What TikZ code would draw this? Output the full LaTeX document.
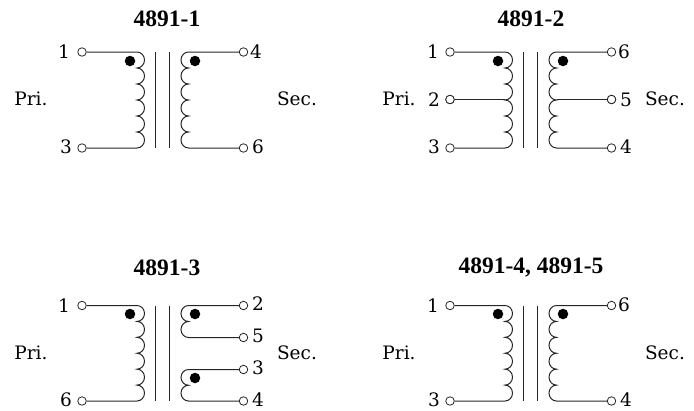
\documentclass[tikz,border=0pt]{standalone}
\usepackage{fontspec}
\setmainfont{DejaVu Serif}
\newfontfamily\titlefont{Liberation Serif}
\tikzset{
  wire/.style={line width=1pt,draw=black!85},
  term/.style={circle,draw=black!85,line width=0.8pt,fill=white,inner sep=0pt,minimum size=8.5pt},
  polarity/.style={circle,fill=black,inner sep=0pt,minimum size=10.5pt},
  lab/.style={inner sep=0pt,font=\fontsize{18.5}{18.5}\selectfont},
  heading/.style={inner sep=0pt,font=\titlefont\bfseries\fontsize{23.5}{23.5}\selectfont},
}
% #1 first node, #2 last node, #3 coil x, #4 y of first, #5 y of last, #6 number of bumps, #7 bump height
\newcommand{\coilP}[7]{\draw[wire] (#1.east) -- (#3,#4) \foreach \k in {1,...,#6} { arc[start angle=-90,end angle=90,x radius=7.5,y radius=#7] } -- (#2.east);}
\newcommand{\coilS}[7]{\draw[wire] (#1.west) -- (#3,#4) \foreach \k in {1,...,#6} { arc[start angle=270,end angle=90,x radius=7.5,y radius=#7] } -- (#2.west);}
\newcommand{\core}[3]{%
  \coordinate (#1a) at (155.5,#2); \coordinate (#1b) at (155.5,#3);
  \coordinate (#1c) at (169,#2); \coordinate (#1d) at (169,#3);
  \draw[wire] (#1a) -- (#1b); \draw[wire] (#1c) -- (#1d);}
\begin{document}
\begin{tikzpicture}[x=1pt,y=-1pt]
\useasboundingbox (0,0) rectangle (694,410);
% 4891-1
\node[heading] (ta) at (167,18.5) {4891-1};
\begin{scope}
\node[term] (a1) at (82,52) {};
\node[term] (a3) at (82,148) {};
\node[term] (a4) at (243.5,52) {};
\node[term] (a6) at (243.5,148) {};
\node[lab] (la1) at (64,52) {1};
\node[lab] (la3) at (66,147) {3};
\node[lab] (la4) at (256,52) {4};
\node[lab] (la6) at (258,147) {6};
\node[lab] (lap) at (31,99) {Pri.};
\node[lab] (las) at (297,99) {Sec.};
\coilP{a1}{a3}{137}{52}{148}{6}{8}
\coilS{a4}{a6}{188.5}{52}{148}{6}{8}
\core{ac}{52}{148}
\node[polarity] (ad1) at (130,61) {};
\node[polarity] (ad2) at (195,61) {};
\end{scope}
% 4891-2
\node[heading] (tb) at (531,18.5) {4891-2};
\begin{scope}[shift={(368,0)}]
\node[term] (b1) at (82,52) {};
\node[term] (b2) at (82,99.5) {};
\node[term] (b3) at (82,148) {};
\node[term] (b6) at (243.5,52) {};
\node[term] (b5) at (243.5,99.5) {};
\node[term] (b4) at (243.5,148) {};
\node[lab] (lb1) at (65,52) {1};
\node[lab] (lb2) at (66,99.5) {2};
\node[lab] (lb3) at (66,147) {3};
\node[lab] (lb6) at (256,52) {6};
\node[lab] (lb5) at (258,99.5) {5};
\node[lab] (lb4) at (258,147) {4};
\node[lab] (lbp) at (31,99) {Pri.};
\node[lab] (lbs) at (297,99) {Sec.};
\coilP{b1}{b3}{137}{52}{148}{6}{8}
\coilS{b6}{b4}{188.5}{52}{148}{6}{8}
\coordinate (btp) at (137,99.5);
\coordinate (bts) at (188.5,99.5);
\draw[wire] (b2) -- (btp);
\draw[wire,line width=1.5pt] (b5) -- (bts);
\node[term] at (b5) {};
\node[term] at (b2) {};
\core{bc}{52}{148}
\node[polarity] (bd1) at (130,61) {};
\node[polarity] (bd2) at (195,61) {};
\end{scope}
% 4891-3
\node[heading] (tc) at (167,267.5) {4891-3};
\begin{scope}
\node[term] (c1) at (82,305.5) {};
\node[term] (c6) at (82,401) {};
\node[term] (c2) at (243.5,305.5) {};
\node[term] (c5) at (243.5,337.5) {};
\node[term] (c3) at (243.5,369.5) {};
\node[term] (c4) at (243.5,401) {};
\node[lab] (lc1) at (64,306) {1};
\node[lab] (lc6) at (66,400) {6};
\node[lab] (lc2) at (258,304) {2};
\node[lab] (lc5) at (258,336) {5};
\node[lab] (lc3) at (258,368) {3};
\node[lab] (lc4) at (258,400) {4};
\node[lab] (lcp) at (31,352.5) {Pri.};
\node[lab] (lcs) at (297,352.5) {Sec.};
\coilP{c1}{c6}{137}{305.5}{401}{6}{7.96}
\coilS{c2}{c5}{188.5}{305.5}{337.5}{2}{8}
\coilS{c3}{c4}{188.5}{369.5}{401}{2}{7.875}
\core{cc}{305.5}{401}
\node[polarity] (cd1) at (130,314) {};
\node[polarity] (cd2) at (195,314) {};
\node[polarity] (cd3) at (195,378) {};
\end{scope}
% 4891-4, 4891-5
\node[heading] (td) at (531,267.5) {4891-4, 4891-5};
\begin{scope}[shift={(368,0)}]
\node[term] (d1) at (82,305.5) {};
\node[term] (d3) at (82,401) {};
\node[term] (d6) at (243.5,305.5) {};
\node[term] (d4) at (243.5,401) {};
\node[lab] (ld1) at (65,306) {1};
\node[lab] (ld3) at (66,400) {3};
\node[lab] (ld6) at (256,305) {6};
\node[lab] (ld4) at (258,400) {4};
\node[lab] (ldp) at (31,352.5) {Pri.};
\node[lab] (lds) at (297,352.5) {Sec.};
\coilP{d1}{d3}{137}{305.5}{401}{6}{7.96}
\coilS{d6}{d4}{188.5}{305.5}{401}{6}{7.96}
\core{dc}{305.5}{401}
\node[polarity] (dd1) at (130,314) {};
\node[polarity] (dd2) at (195,314) {};
\end{scope}
\end{tikzpicture}
\end{document}
